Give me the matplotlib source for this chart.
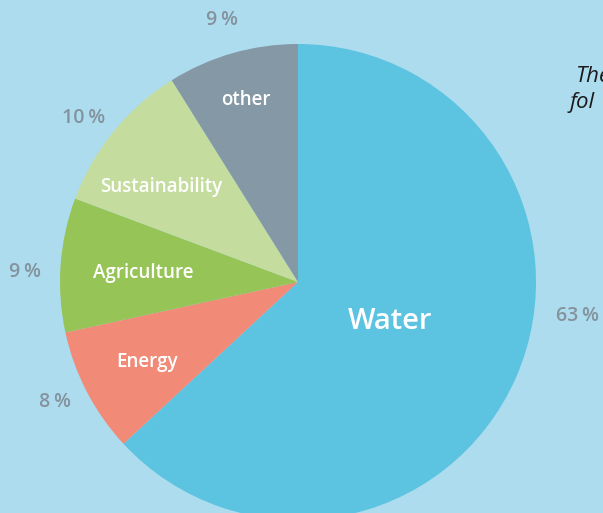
import matplotlib.pyplot as plt

# slice data (clockwise from 12 o'clock)
names = ["Water", "Energy", "Agriculture", "Sustainability", "other"]
shares = [63.1, 8.5, 9.1, 10.4, 8.9]
pct_labels = ["63\u2009%", "8\u2009%", "9\u2009%", "10\u2009%", "9\u2009%"]
colors = ["#5cc3e1", "#f28a78", "#96c456", "#c4dd9e", "#8498a5"]

bg = "#addcee"
grey = "#84939e"

plt.rcParams["font.family"] = ["Open Sans", "DejaVu Sans"]

fig = plt.figure(figsize=(6.03, 5.13), dpi=100, facecolor=bg)
ax = fig.add_axes([0, 0, 1, 1])
ax.set_facecolor(bg)

ax.pie(shares, colors=colors, startangle=90, counterclock=False, radius=1,
       wedgeprops=dict(linewidth=0))

# keep center at (298, 282) px with radius 238 px
ax.set_xlim(-298 / 238, 305 / 238)
ax.set_ylim(-231 / 238, 282 / 238)
ax.set_aspect("auto")
ax.axis("off")

# label positions (data units)
inner_pos = [(0.387, -0.168), (-0.634, -0.336), (-0.651, 0.038), (-0.576, 0.399), (-0.218, 0.765)]
outer_pos = [(1.176, -0.143), (-1.021, -0.504), (-1.147, 0.042), (-0.899, 0.689), (-0.319, 1.101)]

for i, name in enumerate(names):
    size = 21 if name == "Water" else 13.5
    ax.text(*inner_pos[i], name, color="white", fontsize=size,
            fontweight="semibold", ha="center", va="center")
    ax.text(*outer_pos[i], pct_labels[i], color=grey, fontsize=14,
            fontweight="semibold", ha="center", va="center")

# cropped caption at the right edge
fig.text(576 / 603, 1 - 76 / 513, "The", fontsize=16, style="italic",
         color="#1a1a1a", ha="left", va="center")
fig.text(570 / 603, 1 - 103 / 513, "fol", fontsize=16, style="italic",
         color="#1a1a1a", ha="left", va="center")

fig.savefig("out.png", dpi=100, facecolor=bg)
